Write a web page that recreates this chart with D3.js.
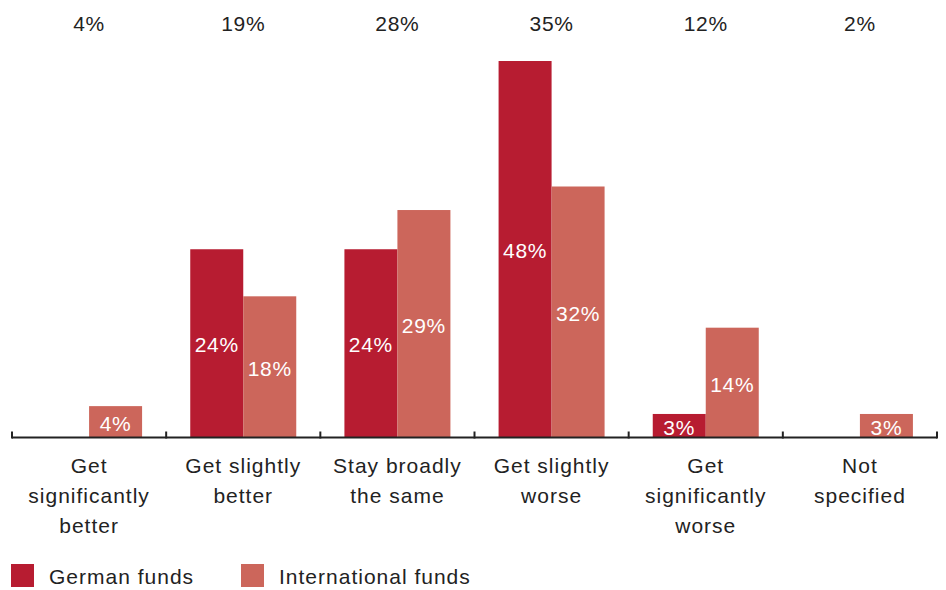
<!DOCTYPE html>
<html><head><meta charset="utf-8">
<script src="https://cdn.jsdelivr.net/npm/d3@7"></script>
<style>body{margin:0;background:#fff}svg{display:block;font-family:"Liberation Sans",Arial,sans-serif}text{letter-spacing:0.7px}text.w{letter-spacing:1px}</style>
</head><body><svg id="c" width="946" height="590"></svg>
<script>
const categories = [["Get","significantly","better"],["Get slightly","better"],["Stay broadly","the same"],["Get slightly","worse"],["Get","significantly","worse"],["Not","specified"]];
const totals = [4,19,28,35,12,2];
const german = [0,24,24,48,3,0];
const international = [4,18,29,32,14,3];
const seriesNames = ["German funds","International funds"];
const colors = ["#b71c31","#cc665b"];

const svg = d3.select("#c");
const left = 12, right = 937, base = 437.5;
const fs = 21;
const x = d3.scaleBand().domain(d3.range(categories.length)).range([left,right]).padding(0);
const y = d3.scaleLinear().domain([0,48]).range([base,61]);
const barW = 53;
const series = [german, international];

series.forEach((vals,si)=>{
  const g = svg.append("g");
  vals.forEach((v,i)=>{
    if(!v) return;
    const cx = x(i)+x.bandwidth()/2;
    const x0 = si===0 ? cx-barW : cx;
    g.append("rect").attr("x",x0).attr("y",y(v)).attr("width",barW).attr("height",base-y(v)).attr("fill",colors[si]);
    g.append("text").attr("x",x0+barW/2).attr("y",(y(v)+base)/2+9)
      .attr("text-anchor","middle").attr("fill","#fff").attr("font-size",fs).text(v+"%");
  });
});

// axis
svg.append("line").attr("x1",left).attr("x2",right).attr("y1",base).attr("y2",base).attr("stroke","#222").attr("stroke-width",2);
d3.range(categories.length+1).forEach(i=>{
  const xx = i<categories.length ? x(i) : right;
  svg.append("line").attr("x1",xx).attr("x2",xx).attr("y1",base+1).attr("y2",base-6).attr("stroke","#222").attr("stroke-width",2);
});

// top totals
totals.forEach((t,i)=>{
  svg.append("text").attr("x",x(i)+x.bandwidth()/2).attr("y",31)
    .attr("text-anchor","middle").attr("fill","#222").attr("font-size",fs).text(t+"%");
});

// category labels
categories.forEach((lines,i)=>{
  const t = svg.append("text").attr("class","w").attr("text-anchor","middle").attr("fill","#222").attr("font-size",fs);
  lines.forEach((l,j)=>{
    t.append("tspan").attr("x",x(i)+x.bandwidth()/2).attr("y",473+j*30).text(l);
  });
});

// legend
const lx = [11,241];
seriesNames.forEach((n,i)=>{
  svg.append("rect").attr("x",lx[i]).attr("y",564).attr("width",23).attr("height",23).attr("fill",colors[i]);
  svg.append("text").attr("class","w").attr("x",lx[i]+38).attr("y",584).attr("fill","#222").attr("font-size",fs).text(n);
});
</script></body></html>
